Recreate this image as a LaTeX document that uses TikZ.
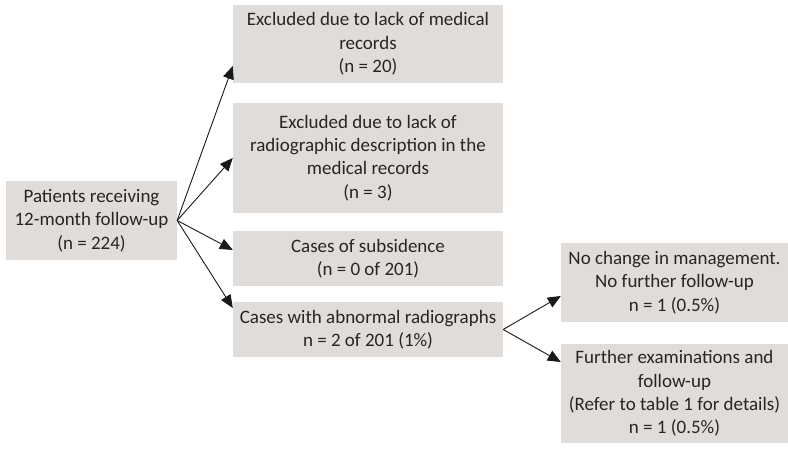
\documentclass[tikz,border=0pt]{standalone}
\usepackage{fontspec}
\setmainfont{Carlito}
\usetikzlibrary{arrows.meta,calc}
\definecolor{boxfill}{HTML}{E0DCD9}
\definecolor{txt}{HTML}{262626}
\tikzset{
  box/.style={fill=boxfill, text=txt, inner sep=0pt, align=center, anchor=center,
    font=\fontsize{19}{23.3}\selectfont},
  arr/.style={draw=black!90, line width=0.9pt, -{Triangle[length=13pt,width=11pt]}}
}
\begin{document}
\begin{tikzpicture}[x=1pt,y=-1pt]
\useasboundingbox (0,0) rectangle (788,453);
\node[box, minimum width=171pt, minimum height=79pt] (L) at (91.5,220.5) {Patients receiving\\12-month follow-up\\(n = 224)};
\node[box, minimum width=270pt, minimum height=78pt] (A) at (368,44) {Excluded due to lack of medical\\records\\(n = 20)};
\node[box, minimum width=270pt, minimum height=110pt] (B) at (368,158) {Excluded due to lack of\\radiographic description in the\\medical records\\(n = 3)};
\node[box, minimum width=270pt, minimum height=55pt] (C) at (368,258.5) {Cases of subsidence\\(n = 0 of 201)};
\node[box, minimum width=270pt, minimum height=55pt] (D) at (368,329.5) {Cases with abnormal radiographs\\n = 2 of 201 (1\%)};
\node[box, minimum width=227pt, minimum height=79pt] (E) at (674.5,282.5) {No change in management.\\No further follow-up\\n = 1 (0.5\%)};
\node[box, minimum width=227pt, minimum height=99pt] (F) at (674.5,393.5) {Further examinations and\\follow-up\\(Refer to table 1 for details)\\n = 1 (0.5\%)};
\coordinate (tA) at ([yshift=-22pt]A.west);
\coordinate (tB) at (B.west);
\coordinate (tC) at ([yshift=8.5pt]C.west);
\coordinate (tD) at ([yshift=21.5pt]D.west);
\coordinate (tE) at ([yshift=-13.5pt]E.west);
\coordinate (tF) at ([yshift=31.5pt]F.west);
\draw[arr] (L.east) -- (tA);
\draw[arr] (L.east) -- (tB);
\draw[arr] (L.east) -- (tC);
\draw[arr] (L.east) -- (tD);
\draw[arr] (D.east) -- (tE);
\draw[arr] (D.east) -- (tF);
\end{tikzpicture}
\end{document}
